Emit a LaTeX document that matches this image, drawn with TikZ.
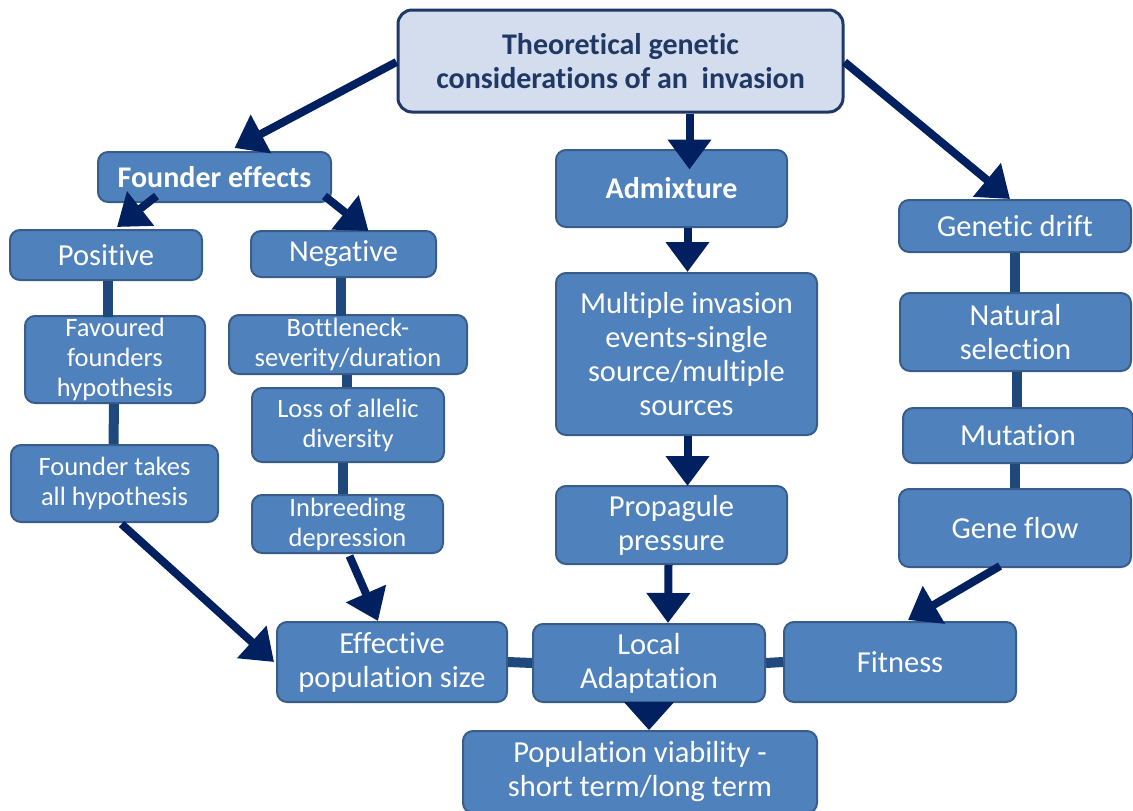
\documentclass[tikz,border=0pt]{standalone}
\usepackage{fontspec}
\setmainfont[Ligatures=NoCommon]{Carlito}
\usetikzlibrary{arrows.meta,calc}
\definecolor{boxfill}{HTML}{4F81BD}
\definecolor{boxdraw}{HTML}{385D8A}
\definecolor{navy}{HTML}{002060}
\definecolor{linkc}{HTML}{1F497D}
\definecolor{topfill}{HTML}{D3DDEE}
\definecolor{topdraw}{HTML}{1F3864}
\begin{document}
\begin{tikzpicture}[x=1pt,y=-1pt,
 box/.style={draw=boxdraw, line width=2pt, fill=boxfill, rounded corners=10pt, text=white, align=center, inner sep=0pt, font=\fontsize{30.5}{34}\selectfont},
 sbox/.style={box, font=\fontsize{26.5}{30}\selectfont},
 bbox/.style={box, font=\bfseries\fontsize{30}{34}\selectfont},
 topbox/.style={draw=topdraw, line width=3pt, fill=topfill, rounded corners=14pt, text=topdraw, align=center, inner sep=0pt, font=\bfseries\fontsize{30}{34}\selectfont},
 arr/.style={draw=navy, line width=8pt, -{Triangle[width=42pt,length=30pt]}},
 linkl/.style={draw=linkc, line width=10pt},
]
\useasboundingbox (0,0) rectangle (1133,811);

\node[topbox, minimum width=445pt, minimum height=102pt] (top) at (620.5,61) {Theoretical genetic\\considerations of an\ \ invasion};

\node[bbox, minimum width=233pt, minimum height=50pt] (fe) at (214.5,177) {Founder effects};
\node[box, minimum width=192pt, minimum height=50pt] (pos) at (106,255) {Positive};
\node[box, minimum width=185pt, minimum height=46pt] (neg) at (343.5,254) {Negative};
\node[sbox, minimum width=180pt, minimum height=87pt] (fav) at (115,359.5) {Favoured\\founders\\hypothesis};
\node[sbox, minimum width=207pt, minimum height=77pt] (fta) at (114.5,483.5) {Founder takes\\all hypothesis};
\node[sbox, minimum width=238pt, minimum height=59pt] (bot) at (348,344.5) {Bottleneck-\\severity/duration};
\node[sbox, minimum width=192pt, minimum height=74pt] (loss) at (348,425) {Loss of allelic\\diversity};
\node[sbox, minimum width=191pt, minimum height=58pt] (inb) at (347.5,524) {Inbreeding\\depression};

\node[bbox, minimum width=231pt, minimum height=77pt] (adm) at (671.5,188.5) {Admixture};
\node[box, minimum width=261pt, minimum height=162pt] (mult) at (686.5,354) {Multiple invasion\\events-single\\source/multiple\\sources};
\node[box, minimum width=231pt, minimum height=78pt] (prop) at (671.5,525) {Propagule\\pressure};

\node[box, minimum width=232pt, minimum height=52pt] (gd) at (1015,226) {Genetic drift};
\node[box, minimum width=231pt, minimum height=78pt] (ns) at (1015.5,332) {Natural\\selection};
\node[box, minimum width=230pt, minimum height=55pt] (mut) at (1018,435.5) {Mutation};
\node[box, minimum width=232pt, minimum height=78pt] (gf) at (1015,528) {Gene flow};

\node[box, minimum width=230pt, minimum height=80pt] (eff) at (392,662) {Effective\\population size};
\node[box, minimum width=232pt, minimum height=78pt] (loc) at (649,663) {Local\\Adaptation};
\node[box, minimum width=232pt, minimum height=80pt] (fit) at (900,662) {Fitness};
\node[box, minimum width=354pt, minimum height=82pt] (via) at (640,772) {Population viability -\\short term/long term};

% plain links
\draw[linkl] ($(pos.south)+(2,0)$) -- ($(pos.south)+(2,36)$) coordinate (l1) -- (l1 |- fav.north);
\draw[linkl] ($(fav.south)+(-1,0)$) -- ($(fta.north)+(-1,0)$);
\draw[linkl] ($(neg.south)+(-3,0)$) -- ($(neg.south)+(-3,38)$);
\draw[linkl] ($(bot.south)+(-1,0)$) -- ($(loss.north)+(-1,0)$);
\draw[linkl] ($(loss.south)+(-5,0)$) -- ($(inb.north)+(-4.5,0)$);
\draw[linkl] (gd.south) -- ($(ns.north)+(-0.5,0)$);
\draw[linkl] ($(ns.south)+(1,0)$) -- ($(mut.north)+(-1.5,0)$);
\draw[linkl] ($(mut.south)+(-3,0)$) -- (gf.north);
\draw[linkl] (eff.east) -- (loc.west);
\draw[linkl] (loc.east) -- (fit.west);

% arrows
\draw[arr] ($(top.west)+(0,1)$) -- ($(fe.north)+(20,-3)$);
\draw[arr] ($(top.south)+(69,0)$) -- ($(top.south)+(69,56)$) coordinate (a1);
\draw[arr] ($(top.east)+(0,1)$) -- ($(gd.north)+(-5,0)$);
\draw[arr] ($(fe.south)+(-58,-7)$) -- ($(pos.north)+(11,-2)$);
\draw[arr] ($(fe.south)+(110,-7)$) -- ($(neg.north)+(25,1)$);
\draw[arr] ($(adm.south)+(16,0)$) -- ($(mult.north)+(1,0)$);
\draw[arr] ($(mult.south)+(1,0)$) -- ($(prop.north)+(16,1)$);
\draw[arr] ($(prop.south)+(-3,0)$) -- ($(loc.north)+(19,0)$);
\draw[arr] ($(fta.south)+(7,1)$) -- ($(eff.west)+(-2,0)$);
\draw[arr] ($(inb.south)+(2,2)$) -- ($(eff.north)+(-14,0)$);
\draw[arr] ($(gf.south)+(-15,-2)$) -- ($(fit.north)+(8,-1)$);
\draw[navy, line width=1pt, -{Triangle[width=50pt,length=28pt]}] (loc.south) -- (loc.south |- via.north);
\end{tikzpicture}
\end{document}
